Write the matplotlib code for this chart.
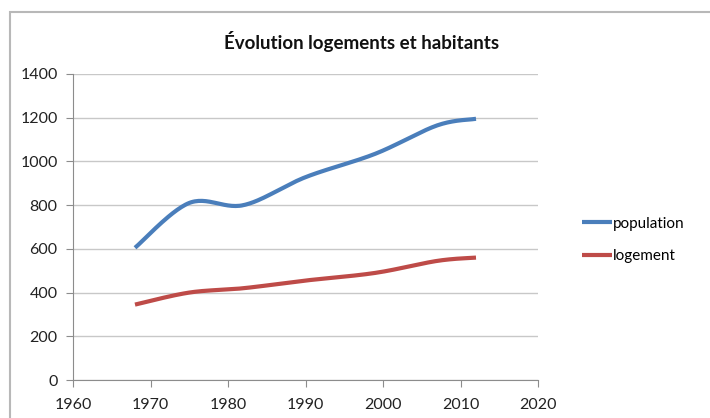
import numpy as np
import matplotlib.pyplot as plt
from matplotlib.patches import Rectangle

annees = [1968, 1975, 1982, 1990, 1999, 2007, 2012]
population = [605, 810, 800, 928, 1035, 1165, 1195]
logement = [345, 400, 420, 455, 490, 545, 560]

x_ticks = [1960, 1970, 1980, 1990, 2000, 2010, 2020]
y_ticks = [0, 200, 400, 600, 800, 1000, 1200, 1400]


def lisse(x, y, n=30):
    # courbe lissée facon Excel (Catmull-Rom via Bezier)
    x = np.asarray(x, float)
    y = np.asarray(y, float)
    xs, ys = [], []
    for i in range(len(x) - 1):
        p0 = (x[max(i - 1, 0)], y[max(i - 1, 0)])
        p1 = (x[i], y[i])
        p2 = (x[i + 1], y[i + 1])
        p3 = (x[min(i + 2, len(x) - 1)], y[min(i + 2, len(x) - 1)])
        c1 = (p1[0] + (p2[0] - p0[0]) / 6, p1[1] + (p2[1] - p0[1]) / 6)
        c2 = (p2[0] - (p3[0] - p1[0]) / 6, p2[1] - (p3[1] - p1[1]) / 6)
        t = np.linspace(0, 1, n)
        for k in range(2):
            pts = [p1[k], c1[k], c2[k], p2[k]]
            v = ((1 - t) ** 3 * pts[0] + 3 * (1 - t) ** 2 * t * pts[1]
                 + 3 * (1 - t) * t ** 2 * pts[2] + t ** 3 * pts[3])
            (xs if k == 0 else ys).append(v)
    return np.concatenate(xs), np.concatenate(ys)


plt.rcParams['font.family'] = ['Lato', 'DejaVu Sans']

fig = plt.figure(figsize=(7.1, 4.18), dpi=100)
fig.patches.append(Rectangle((10 / 710, -0.1), 1.2, (418 - 12) / 418 + 0.1,
                             transform=fig.transFigure, fill=False,
                             edgecolor='#b8b8b8', linewidth=1.5))
ax = fig.add_axes([73 / 710, 1 - 380 / 418, 465 / 710, 306 / 418])

px, py = lisse(annees, population)
lx, ly = lisse(annees, logement)
ax.plot(px, py, color='#4a7ebb', linewidth=3, solid_capstyle='butt', label='population')
ax.plot(lx, ly, color='#be4b48', linewidth=3, solid_capstyle='butt', label='logement')

ax.set_xlim(1960, 2020)
ax.set_ylim(0, 1400)
ax.set_xticks(x_ticks)
ax.set_yticks(y_ticks)
ax.grid(axis='y', color='#c8c8c8', linewidth=1)
ax.set_axisbelow(True)
for s in ['top', 'right']:
    ax.spines[s].set_visible(False)
for s in ['left', 'bottom']:
    ax.spines[s].set_color('#8c8c8c')
ax.tick_params(colors='#8c8c8c', labelcolor='#222222', labelsize=11.5, length=5)
ax.tick_params(axis='x', pad=8)
ax.tick_params(axis='y', pad=6)

fig.text(362 / 710, 1 - 42 / 418, 'Évolution logements et habitants',
         ha='center', va='center', fontsize=13.5, fontweight='bold', color='#111111')

fig.legend(loc='center left', bbox_to_anchor=(568 / 710, 1 - 240 / 418),
           frameon=False, fontsize=11, handlelength=2.0, handletextpad=0.05,
           labelspacing=1.2)

plt.savefig('out.png')
